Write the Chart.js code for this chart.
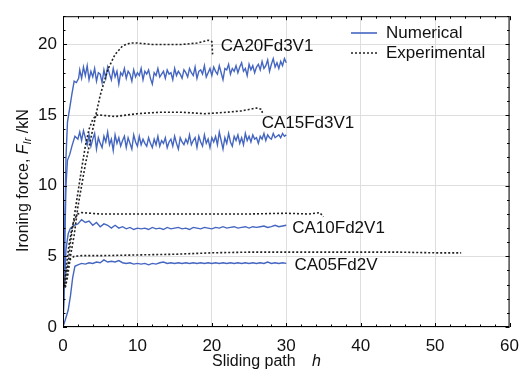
<!DOCTYPE html>
<html>
<head>
<meta charset="utf-8">
<script src="https://cdn.jsdelivr.net/npm/chart.js@4"></script>
<style>
  html, body { margin: 0; padding: 0; background: #fff; }
  #wrap { width: 528px; height: 376px; }
</style>
</head>
<body>
<div id="wrap"><canvas id="forceChart" width="528" height="376"></canvas></div>
<script>
// ---- data ----
const xTicks = [0, 10, 20, 30, 40, 50, 60];
const yTicks = [0, 5, 10, 15, 20];

// numerical runs: start-up points, then plateau samples every NUM_STEP from plateauStart
const NUM_STEP_FINE = 0.25;
const NUM_STEP_COARSE = 0.5;

const num20RiseX = [0, 0.2, 0.4, 0.6, 0.9, 1.2, 1.5, 1.8, 2.1];
const num20RiseY = [0, 6, 12, 14.5, 15.5, 16.5, 17.4, 17.3, 17.6];
const num20Plateau = [
  18.2, 17.6, 18.4, 17.8, 18.5, 17.5, 18.1, 17.7, 18.3, 17.4, 18.0, 17.9,
  17.3, 18.2, 17.6, 18.4, 17.9, 17.5, 18.3, 17.7, 18.1, 17.2, 18.0, 17.8,
  18.3, 17.6, 18.1, 17.9, 17.4, 18.2, 17.7, 18.0, 17.8, 18.3, 17.5, 18.1,
  17.9, 18.2, 17.6, 17.2, 18.0, 17.8, 18.3, 17.7, 17.9, 18.1, 17.6, 18.2,
  17.9, 18.0, 17.5, 18.3, 17.8, 18.1, 17.9, 17.6, 18.2, 18.0, 17.7, 18.3,
  18.0, 17.8, 18.4, 17.6, 18.1, 18.2, 17.9, 18.5, 17.7, 18.0, 18.3, 17.8,
  18.4, 18.1, 17.9, 18.5, 18.0, 17.5, 18.3, 18.2, 18.6, 17.9, 18.3, 18.1,
  18.5, 18.0, 18.4, 18.7, 18.1, 18.3, 17.8, 18.6, 18.2, 18.5, 18.0, 18.4,
  18.6, 18.2, 18.8, 18.3, 18.5, 18.9, 18.1, 18.6, 19.0, 18.4, 18.7, 18.3,
  18.8, 18.5, 19.0, 18.7
];

const num15RiseX = [0, 0.2, 0.4, 0.6, 0.9, 1.2, 1.6, 2.0];
const num15RiseY = [0, 5, 10, 11.8, 12.2, 12.8, 13.5, 13.3];
const num15Plateau = [
  13.8, 13.2, 13.9, 13.4, 12.9, 13.6, 12.8, 13.3, 13.7, 12.6, 13.4, 13.0,
  12.7, 13.5, 13.1, 13.8, 12.9, 13.3, 12.5, 13.6, 13.0, 13.4, 12.8, 13.2,
  13.5, 12.7, 13.4, 13.0, 12.6, 13.6, 13.1, 12.8, 13.5, 12.9, 13.3, 13.0,
  12.8, 13.4, 13.0, 12.7, 13.3, 12.9, 13.5, 12.8, 13.2, 13.0, 13.4, 12.7,
  13.1, 13.3, 12.8, 13.5, 13.0, 12.6, 13.4, 13.1, 12.9, 13.3, 13.0, 13.6,
  12.9, 13.2, 13.4, 12.7, 13.5, 13.1, 12.8, 13.6, 13.0, 13.3, 12.7, 13.4,
  13.1, 13.5, 12.9, 13.8, 13.2, 12.6, 13.4, 13.0, 13.7, 13.1, 12.8, 13.5,
  13.2, 13.6, 13.0, 13.4, 12.9, 13.7, 13.2, 13.5, 13.1, 13.6, 13.3, 13.4,
  13.0, 13.5, 13.3, 13.7, 13.2, 13.6, 13.4, 13.3, 13.7, 13.4, 13.5, 13.6,
  13.4, 13.7, 13.5, 13.6
];

const num10RiseX = [0, 0.2, 0.4, 0.7, 1.0, 1.5];
const num10RiseY = [0, 3, 5.5, 6.6, 7.0, 7.2];
const num10Plateau = [
  7.3, 7.6, 7.4, 7.5, 7.2, 7.4, 7.1, 7.3, 7.2,
  7.0, 7.2, 7.0, 7.1, 6.95, 7.05, 6.9, 7.0,
  6.95, 7.0, 6.9, 7.05, 6.95, 7.0, 6.9, 7.05,
  6.95, 7.0, 7.05, 6.95, 7.0, 6.9, 7.05, 7.0,
  6.95, 7.05, 7.0, 6.95, 7.05, 7.0, 7.1, 7.0,
  7.05, 7.1, 7.0, 7.05, 7.1, 7.0, 7.1, 7.05,
  7.1, 7.15, 7.05, 7.1, 7.2, 7.1, 7.15, 7.2
];

const num05RiseX = [0, 0.3, 0.7, 1.0, 1.3, 1.6];
const num05RiseY = [0, 0.5, 1.2, 2.2, 3.5, 4.3];
const num05Plateau = [
  4.4, 4.5, 4.45, 4.55, 4.5, 4.6, 4.55, 4.75, 4.6,
  4.65, 4.6, 4.7, 4.55, 4.5, 4.55, 4.45, 4.5,
  4.45, 4.5, 4.4, 4.5, 4.45, 4.55, 4.6, 4.5,
  4.55, 4.5, 4.55, 4.5, 4.55, 4.5, 4.55, 4.5,
  4.55, 4.5, 4.55, 4.5, 4.55, 4.5, 4.55, 4.5,
  4.55, 4.5, 4.55, 4.5, 4.55, 4.5, 4.55, 4.5,
  4.55, 4.5, 4.6, 4.5, 4.55, 4.5, 4.55, 4.5
];

// experimental runs
const exp20X = [0.3, 0.6, 1, 1.5, 2, 3, 4, 5, 6, 7, 8, 9, 10, 12, 14, 16, 18, 19.5, 20, 20.1];
const exp20Y = [2.8, 3.5, 5, 6.5, 8.5, 11.5, 14, 16.4, 18.2, 19.3, 19.9, 20.1, 20.1, 20.0, 20.0, 20.0, 20.1, 20.3, 20.2, 19.3];
const exp15X = [0.3, 0.6, 1, 1.5, 2, 2.5, 3, 3.5, 4, 4.5, 5, 7, 10, 13, 16, 19, 22, 24, 25, 26, 26.7, 26.8];
const exp15Y = [2.8, 4, 6, 7.8, 9.5, 11.2, 12.8, 14.0, 14.7, 15.0, 15.0, 14.9, 15.1, 15.2, 15.2, 15.1, 15.2, 15.3, 15.4, 15.5, 15.4, 15.1];
const exp10X = [0.2, 0.5, 0.8, 1.2, 1.6, 2, 2.5, 5, 10, 15, 20, 25, 30, 33, 34.5, 35];
const exp10Y = [3, 4.5, 5.8, 7.0, 7.7, 8.0, 8.1, 8.0, 8.0, 8.0, 8.0, 8.0, 8.05, 8.0, 8.1, 7.8];
const exp05X = [0.1, 0.3, 0.6, 1, 1.5, 2.5, 5, 10, 15, 20, 25, 30, 35, 40, 45, 50, 53.5];
const exp05Y = [2.8, 3.5, 4.3, 4.8, 5.0, 5.05, 5.05, 5.1, 5.15, 5.25, 5.3, 5.3, 5.3, 5.3, 5.3, 5.25, 5.25];

// curve labels: text, anchor x, anchor y (data units)
const labelTexts = ["CA20Fd3V1", "CA15Fd3V1", "CA10Fd2V1", "CA05Fd2V"];
const labelX = [21.2, 26.7, 30.8, 31.1];
const labelY = [19.9, 14.4, 7.0, 4.4];

const BLUE = "#4466c0";
const DARK = "#222222";
const FONT = "'Liberation Sans', Arial, sans-serif";

function pairs(xs, ys) {
  return xs.map((x, i) => ({ x: x, y: ys[i] }));
}
function numCurve(riseX, riseY, start, step, plateau) {
  const pts = pairs(riseX, riseY);
  plateau.forEach((v, i) => pts.push({ x: start + i * step, y: v }));
  return pts;
}

function numSet(data) {
  return {
    label: "Numerical", data: data, borderColor: BLUE, borderWidth: 1.4,
    pointRadius: 0, showLine: true, tension: 0
  };
}
function expSet(data) {
  return {
    label: "Experimental", data: data, borderColor: DARK, borderWidth: 1.6,
    borderDash: [2, 2], pointRadius: 0, showLine: true, tension: 0
  };
}

// extra drawing: frame, minor ticks, legend, curve labels, axis titles
const decorations = {
  id: "decorations",
  afterDraw(chart) {
    const ctx = chart.ctx;
    const a = chart.chartArea;
    const sx = chart.scales.x, sy = chart.scales.y;
    ctx.save();

    // frame
    ctx.strokeStyle = "#000";
    ctx.lineWidth = 1;
    ctx.strokeRect(a.left + 0.5, a.top + 0.5, a.right - a.left - 1, a.bottom - a.top - 1);

    // small inward ticks
    ctx.beginPath();
    for (let v = 0; v <= 60; v += 2) {
      const px = Math.round(sx.getPixelForValue(v)) + 0.5;
      const len = v % 10 === 0 ? 4 : 2.5;
      ctx.moveTo(px, a.bottom); ctx.lineTo(px, a.bottom - len);
      ctx.moveTo(px, a.top); ctx.lineTo(px, a.top + len);
    }
    for (let v = 0; v <= 22; v += 1) {
      const py = Math.round(sy.getPixelForValue(v)) + 0.5;
      const len = v % 5 === 0 ? 4 : 2.5;
      ctx.moveTo(a.left, py); ctx.lineTo(a.left + len, py);
      ctx.moveTo(a.right, py); ctx.lineTo(a.right - len, py);
    }
    ctx.stroke();

    // legend
    ctx.lineWidth = 1.6;
    ctx.strokeStyle = BLUE;
    ctx.beginPath(); ctx.moveTo(351, 33); ctx.lineTo(377, 33); ctx.stroke();
    ctx.strokeStyle = DARK;
    ctx.setLineDash([2, 2]);
    ctx.beginPath(); ctx.moveTo(351, 53); ctx.lineTo(377, 53); ctx.stroke();
    ctx.setLineDash([]);
    ctx.fillStyle = "#111";
    ctx.font = "17px " + FONT;
    ctx.textBaseline = "middle";
    ctx.textAlign = "left";
    ctx.fillText("Numerical", 386, 33);
    ctx.fillText("Experimental", 386, 53);

    // curve labels
    labelTexts.forEach((t, i) => {
      ctx.fillText(t, sx.getPixelForValue(labelX[i]), sy.getPixelForValue(labelY[i]));
    });

    // x title
    ctx.font = "16px " + FONT;
    ctx.fillText("Sliding path", 212, 362);
    ctx.font = "italic 16px " + FONT;
    ctx.fillText("h", 312, 362);

    // y title, rotated
    ctx.translate(24, 252);
    ctx.rotate(-Math.PI / 2);
    let x = 0;
    ctx.font = "16px " + FONT;
    const p1 = "Ironing force, ";
    ctx.fillText(p1, x, 0); x += ctx.measureText(p1).width;
    ctx.font = "italic 16px " + FONT;
    ctx.fillText("F", x, 0); x += ctx.measureText("F").width;
    ctx.font = "italic 11px " + FONT;
    ctx.fillText("Ir", x, 4); x += ctx.measureText("Ir").width;
    ctx.font = "16px " + FONT;
    ctx.fillText(" /kN", x, 0);

    ctx.restore();
  }
};

const chartCtx = document.getElementById("forceChart").getContext("2d");
const forceChart = new Chart(chartCtx, {
  type: "scatter",
  data: {
    datasets: [
      expSet(pairs(exp20X, exp20Y)),
      expSet(pairs(exp15X, exp15Y)),
      expSet(pairs(exp10X, exp10Y)),
      expSet(pairs(exp05X, exp05Y)),
      numSet(numCurve(num20RiseX, num20RiseY, 2.25, NUM_STEP_FINE, num20Plateau)),
      numSet(numCurve(num15RiseX, num15RiseY, 2.25, NUM_STEP_FINE, num15Plateau)),
      numSet(numCurve(num10RiseX, num10RiseY, 2.0, NUM_STEP_COARSE, num10Plateau)),
      numSet(numCurve(num05RiseX, num05RiseY, 2.0, NUM_STEP_COARSE, num05Plateau)),
    ],
  },
  options: {
    responsive: false,
    animation: false,
    layout: { padding: { left: 0, right: 17, top: 9, bottom: 0 } },
    plugins: { legend: { display: false }, tooltip: { enabled: false } },
    scales: {
      x: {
        type: "linear", min: 0, max: 60,
        afterBuildTicks: (s) => { s.ticks = xTicks.map((v) => ({ value: v })); },
        afterFit: (s) => { s.height = 49; },
        grid: { color: "#dedede", drawTicks: false },
        border: { display: false },
        ticks: { color: "#111", padding: 9, maxRotation: 0, font: { family: FONT, size: 17 } },
      },
      y: {
        type: "linear", min: 0, max: 22,
        afterBuildTicks: (s) => { s.ticks = yTicks.map((v) => ({ value: v })); },
        afterFit: (s) => { s.width = 63; },
        grid: { color: "#dedede", drawTicks: false },
        border: { display: false },
        ticks: { color: "#111", padding: 6, font: { family: FONT, size: 17 } },
      },
    },
  },
  plugins: [decorations],
});
</script>
</body>
</html>
